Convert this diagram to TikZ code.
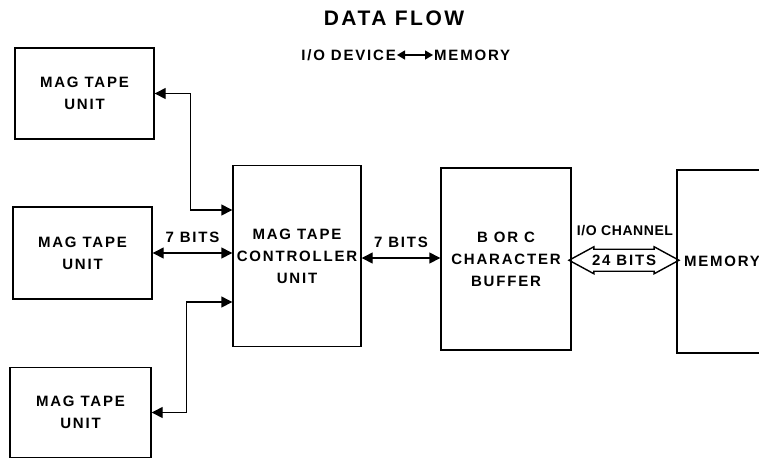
\documentclass[tikz,border=0pt]{standalone}
\usepackage{fontspec}
\setmainfont{Liberation Sans}
\newfontfamily\stencil[LetterSpace=12]{Liberation Sans}
\newfontfamily\narrowstencil[LetterSpace=4]{Liberation Sans}
\usetikzlibrary{arrows.meta,positioning,shapes.arrows,calc}

\begin{document}
\begin{tikzpicture}[
  x=1pt, y=-1pt,
  unit/.style={
    draw,
    line width=1.4pt,
    align=center,
    inner sep=0pt,
    font=\stencil\bfseries\fontsize{15}{22}\selectfont
  },
  tag/.style={font=\stencil\bfseries\fontsize{15}{18}\selectfont, inner sep=1pt},
  link/.style={{Triangle[length=11pt,width=11pt]}-{Triangle[length=11pt,width=11pt]}, line width=1.4pt}
]
\useasboundingbox (0,0) rectangle (759,459);
\clip (0,0) rectangle (759,459);

% Title
\node[font=\stencil\bfseries\fontsize{21}{24}\selectfont] (title) at (394,18) {DATA FLOW};
\node[tag,anchor=east] (dev) at (397,55) {I/O DEVICE};
\node[tag,anchor=west] (memtag) at (433,55) {MEMORY};
\draw[line width=1.4pt,{Triangle[length=8pt,width=9pt]}-{Triangle[length=8pt,width=9pt]}] (dev) -- (memtag);

% Tape units
\node[unit,minimum width=139,minimum height=91] (unit1) at (84.5,93.5) {MAG TAPE\\UNIT};
\node[unit,minimum width=139,minimum height=92] (unit2) at (82.5,253) {MAG TAPE\\UNIT};
\node[unit,minimum width=141,minimum height=90] (unit3) at (80.5,412.5) {MAG TAPE\\UNIT};

% Controller, buffer, memory
\node[unit,minimum width=128,minimum height=181] (ctrl) at (297,256) {MAG TAPE\\CONTROLLER\\UNIT};
\node[unit,minimum width=130,minimum height=182] (buffer) at (506,259) {B OR C\\CHARACTER\\BUFFER};
\node[unit,minimum width=90,minimum height=183] (memory) at (722,261.5) {MEMORY};

% Arrows
\draw[link] (unit1.east) -- ++(36,0) |- ([yshift=46pt]ctrl.west);
\draw[link] (unit2.east) -- (unit2.east -| ctrl.west) node[midway,above=9pt,tag] {7 BITS};
\draw[link] (unit3.east) -- ++(35,0) |- ([yshift=-46pt]ctrl.west);
\draw[link] ([yshift=-2pt]ctrl.east) -- ([yshift=-2pt]ctrl.east -| buffer.west) node[midway,above=9pt,tag] {7 BITS};

% I/O channel
\node[double arrow,draw,line width=1.4pt,inner xsep=2pt,inner ysep=5pt,
  double arrow head extend=2.5pt,double arrow tip angle=57,minimum height=105,
  font=\stencil\bfseries\fontsize{15}{18}\selectfont] (bus)
  at ($(buffer.east)!0.5!(memory.west)$) {24 BITS};
\node[tag,font=\narrowstencil\bfseries\fontsize{14}{16}\selectfont] (chan) at (625,231) {I/O CHANNEL};

\end{tikzpicture}
\end{document}
